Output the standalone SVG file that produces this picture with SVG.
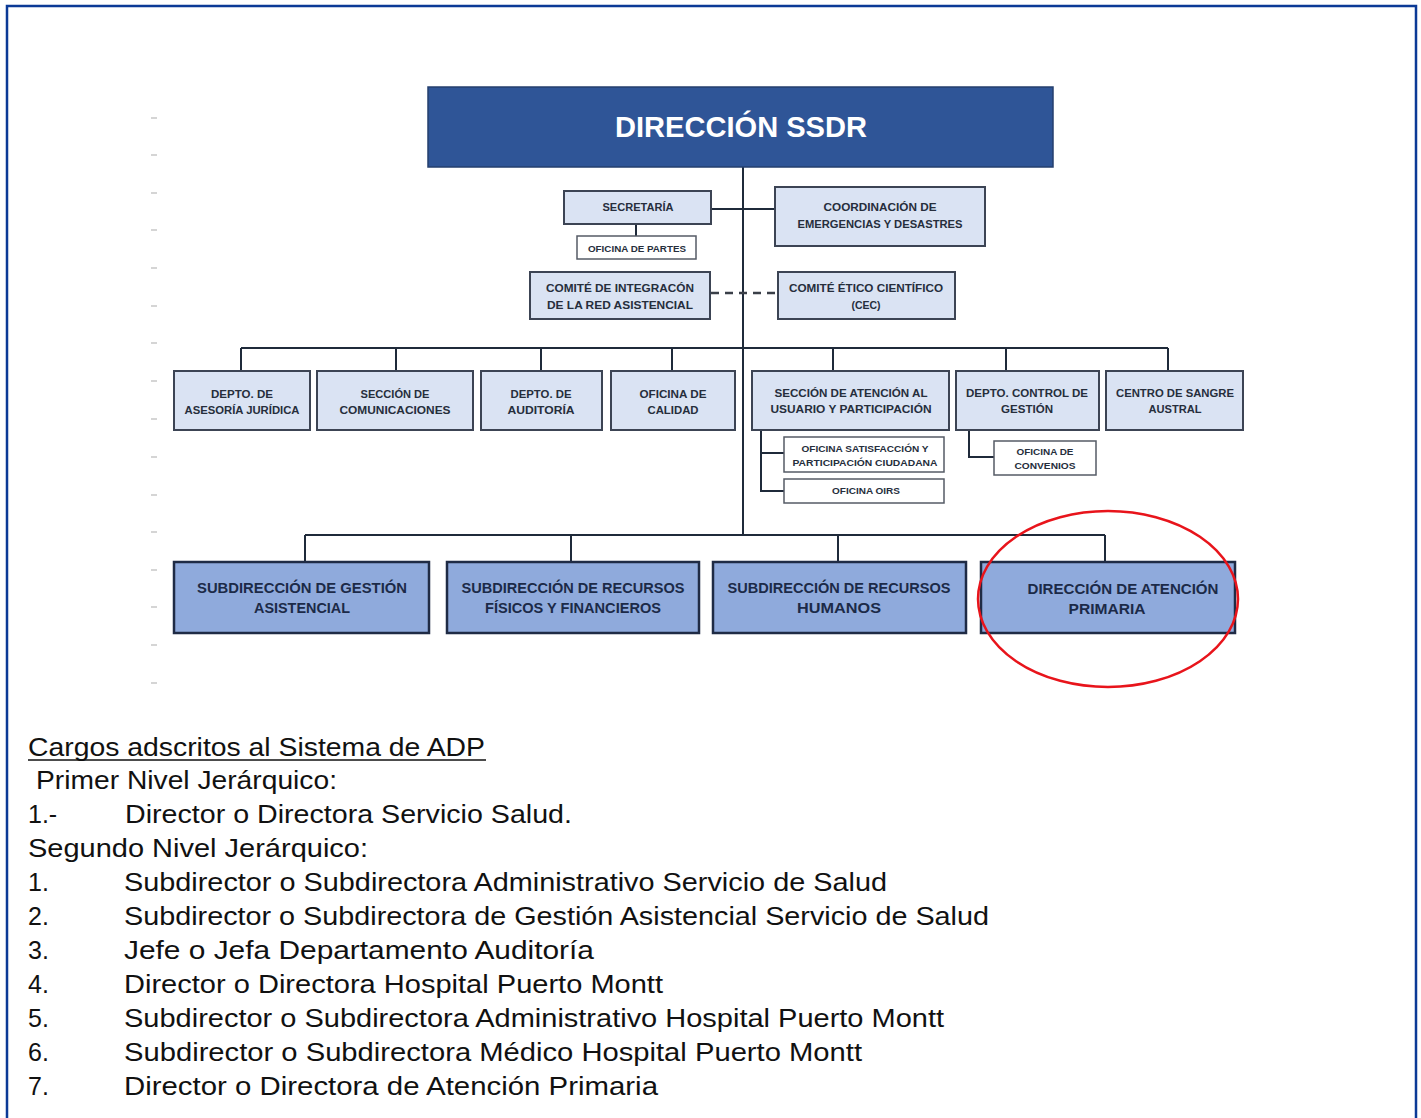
<svg xmlns="http://www.w3.org/2000/svg" width="1421" height="1118" viewBox="0 0 1421 1118">
<style>
.bg{fill:#ffffff}
.frame{fill:none;stroke:#0b3a96;stroke-width:2.5}
.tick{stroke:#c8c8c8;stroke-width:1.5}
.top{fill:#2f5597;stroke:#253f6e;stroke-width:1.5}
.lt{fill:#dae3f3;stroke:#3c4454;stroke-width:2}
.wh{fill:#ffffff;stroke:#555b66;stroke-width:1.5}
.md{fill:#8faadc;stroke:#1f2b45;stroke-width:2.5}
.ln{fill:none;stroke:#1f2a3a;stroke-width:2}
.dash{fill:none;stroke:#3a3f48;stroke-width:2.5;stroke-dasharray:8 6}
.ttop{font-family:"Liberation Sans",Arial,sans-serif;font-weight:bold;font-size:30px;fill:#ffffff;text-anchor:middle}
.t11{font-family:"Liberation Sans",Arial,sans-serif;font-weight:bold;font-size:11px;fill:#262e3c;text-anchor:middle}
.t9{font-family:"Liberation Sans",Arial,sans-serif;font-weight:bold;font-size:9.5px;fill:#262e3c;text-anchor:middle}
.t15{font-family:"Liberation Sans",Arial,sans-serif;font-weight:bold;font-size:15px;fill:#1c2a48;text-anchor:middle}
.body{font-family:"Liberation Sans",Arial,sans-serif;font-size:25px;fill:#111111}
.red{fill:none;stroke:#e8141b;stroke-width:2.5}
</style>
<rect class="bg" x="0" y="0" width="1421" height="1118"/>
<path class="frame" d="M7,1118 V6 H1416 V1118"/>
<g id="ticks">
<path class="tick" d="M151,118h6M151,155h6M151,193h6M151,230h6M151,268h6M151,306h6M151,343h6M151,381h6M151,419h6M151,457h6M151,495h6M151,532h6M151,570h6M151,607h6M151,645h6M151,683h6"/>
</g>
<g id="connectors">
<path class="ln" d="M743,167 V535"/>
<path class="ln" d="M711,209 H775"/>
<path class="ln" d="M636,224 V236"/>
<path class="dash" d="M711,293 H777"/>
<path class="ln" d="M241,348 H1168 M241,348 V371 M396,348 V371 M541,348 V371 M672,348 V371 M833,348 V371 M1006,348 V371 M1168,348 V371"/>
<path class="ln" d="M761,430 V491 H784 M761,453 H784"/>
<path class="ln" d="M969,430 V457 H994"/>
<path class="ln" d="M305,535 H1105 M305,535 V562 M571,535 V562 M838,535 V562 M1105,535 V562"/>
</g>
<g id="n-direccion">
<rect class="top" x="428" y="87" width="625" height="80"/>
<text class="ttop" x="741" y="137" textLength="252" lengthAdjust="spacingAndGlyphs">DIRECCIÓN SSDR</text>
</g>
<g id="n-secretaria">
<rect class="lt" x="564" y="191" width="147" height="33"/>
<text class="t11" x="638" y="211" textLength="71" lengthAdjust="spacingAndGlyphs">SECRETARÍA</text>
</g>
<g id="n-partes">
<rect class="wh" x="577" y="236" width="119" height="23"/>
<text class="t9" x="637" y="252" textLength="98" lengthAdjust="spacingAndGlyphs">OFICINA DE PARTES</text>
</g>
<g id="n-coordinacion">
<rect class="lt" x="775" y="187" width="210" height="59"/>
<text class="t11" x="880" y="211" textLength="113" lengthAdjust="spacingAndGlyphs">COORDINACIÓN DE</text>
<text class="t11" x="880" y="228" textLength="165" lengthAdjust="spacingAndGlyphs">EMERGENCIAS Y DESASTRES</text>
</g>
<g id="n-comite-integracion">
<rect class="lt" x="530" y="272" width="180" height="47"/>
<text class="t11" x="620" y="292" textLength="148" lengthAdjust="spacingAndGlyphs">COMITÉ DE INTEGRACÓN</text>
<text class="t11" x="620" y="309" textLength="146" lengthAdjust="spacingAndGlyphs">DE LA RED ASISTENCIAL</text>
</g>
<g id="n-comite-etico">
<rect class="lt" x="778" y="272" width="177" height="47"/>
<text class="t11" x="866" y="292" textLength="154" lengthAdjust="spacingAndGlyphs">COMITÉ ÉTICO CIENTÍFICO</text>
<text class="t11" x="866" y="309" textLength="29" lengthAdjust="spacingAndGlyphs">(CEC)</text>
</g>
<g id="n-juridica">
<rect class="lt" x="174" y="371" width="136" height="59"/>
<text class="t11" x="242" y="398" textLength="62" lengthAdjust="spacingAndGlyphs">DEPTO. DE</text>
<text class="t11" x="242" y="414" textLength="115" lengthAdjust="spacingAndGlyphs">ASESORÍA JURÍDICA</text>
</g>
<g id="n-comunicaciones">
<rect class="lt" x="317" y="371" width="156" height="59"/>
<text class="t11" x="395" y="398" textLength="69" lengthAdjust="spacingAndGlyphs">SECCIÓN DE</text>
<text class="t11" x="395" y="414" textLength="111" lengthAdjust="spacingAndGlyphs">COMUNICACIONES</text>
</g>
<g id="n-auditoria">
<rect class="lt" x="481" y="371" width="121" height="59"/>
<text class="t11" x="541" y="398" textLength="61" lengthAdjust="spacingAndGlyphs">DEPTO. DE</text>
<text class="t11" x="541" y="414" textLength="67" lengthAdjust="spacingAndGlyphs">AUDITORÍA</text>
</g>
<g id="n-calidad">
<rect class="lt" x="611" y="371" width="124" height="59"/>
<text class="t11" x="673" y="398" textLength="67" lengthAdjust="spacingAndGlyphs">OFICINA DE</text>
<text class="t11" x="673" y="414" textLength="51" lengthAdjust="spacingAndGlyphs">CALIDAD</text>
</g>
<g id="n-usuario">
<rect class="lt" x="752" y="371" width="197" height="59"/>
<text class="t11" x="851" y="397" textLength="153" lengthAdjust="spacingAndGlyphs">SECCIÓN DE ATENCIÓN AL</text>
<text class="t11" x="851" y="413" textLength="161" lengthAdjust="spacingAndGlyphs">USUARIO Y PARTICIPACIÓN</text>
</g>
<g id="n-control">
<rect class="lt" x="956" y="371" width="143" height="59"/>
<text class="t11" x="1027" y="397" textLength="122" lengthAdjust="spacingAndGlyphs">DEPTO. CONTROL DE</text>
<text class="t11" x="1027" y="413" textLength="52" lengthAdjust="spacingAndGlyphs">GESTIÓN</text>
</g>
<g id="n-sangre">
<rect class="lt" x="1106" y="371" width="137" height="59"/>
<text class="t11" x="1175" y="397" textLength="118" lengthAdjust="spacingAndGlyphs">CENTRO DE SANGRE</text>
<text class="t11" x="1175" y="413" textLength="53" lengthAdjust="spacingAndGlyphs">AUSTRAL</text>
</g>
<g id="n-satisfaccion">
<rect class="wh" x="784" y="437" width="160" height="35"/>
<text class="t9" x="865" y="452" textLength="127" lengthAdjust="spacingAndGlyphs">OFICINA SATISFACCIÓN Y</text>
<text class="t9" x="865" y="466" textLength="145" lengthAdjust="spacingAndGlyphs">PARTICIPACIÓN CIUDADANA</text>
</g>
<g id="n-oirs">
<rect class="wh" x="784" y="479" width="160" height="24"/>
<text class="t9" x="866" y="494" textLength="68" lengthAdjust="spacingAndGlyphs">OFICINA OIRS</text>
</g>
<g id="n-convenios">
<rect class="wh" x="994" y="441" width="102" height="34"/>
<text class="t9" x="1045" y="455" textLength="57" lengthAdjust="spacingAndGlyphs">OFICINA DE</text>
<text class="t9" x="1045" y="469" textLength="61" lengthAdjust="spacingAndGlyphs">CONVENIOS</text>
</g>
<g id="n-gestion-asistencial">
<rect class="md" x="174" y="562" width="255" height="71"/>
<text class="t15" x="302" y="593" textLength="210" lengthAdjust="spacingAndGlyphs">SUBDIRECCIÓN DE GESTIÓN</text>
<text class="t15" x="302" y="613" textLength="96" lengthAdjust="spacingAndGlyphs">ASISTENCIAL</text>
</g>
<g id="n-recursos-fisicos">
<rect class="md" x="447" y="562" width="252" height="71"/>
<text class="t15" x="573" y="593" textLength="223" lengthAdjust="spacingAndGlyphs">SUBDIRECCIÓN DE RECURSOS</text>
<text class="t15" x="573" y="613" textLength="176" lengthAdjust="spacingAndGlyphs">FÍSICOS Y FINANCIEROS</text>
</g>
<g id="n-recursos-humanos">
<rect class="md" x="713" y="562" width="253" height="71"/>
<text class="t15" x="839" y="593" textLength="223" lengthAdjust="spacingAndGlyphs">SUBDIRECCIÓN DE RECURSOS</text>
<text class="t15" x="839" y="613" textLength="84" lengthAdjust="spacingAndGlyphs">HUMANOS</text>
</g>
<g id="n-atencion-primaria">
<rect class="md" x="981" y="562" width="254" height="71"/>
<text class="t15" x="1123" y="594" textLength="191" lengthAdjust="spacingAndGlyphs">DIRECCIÓN DE ATENCIÓN</text>
<text class="t15" x="1107" y="614" textLength="77" lengthAdjust="spacingAndGlyphs">PRIMARIA</text>
</g>
<ellipse class="red" cx="1108" cy="599" rx="130" ry="88"/>
<g id="list">
<text class="body" x="28" y="756" textLength="457" lengthAdjust="spacingAndGlyphs">Cargos adscritos al Sistema de ADP</text>
<line x1="28" y1="760" x2="486" y2="760" stroke="#111111" stroke-width="1.5"/>
<text class="body" x="36" y="789" textLength="301" lengthAdjust="spacingAndGlyphs">Primer Nivel Jerárquico:</text>
<text class="body" x="28" y="823">1.-</text>
<text class="body" x="125" y="823" textLength="447" lengthAdjust="spacingAndGlyphs">Director o Directora Servicio Salud.</text>
<text class="body" x="28" y="857" textLength="340" lengthAdjust="spacingAndGlyphs">Segundo Nivel Jerárquico:</text>
<text class="body" x="28" y="891">1.</text>
<text class="body" x="124" y="891" textLength="763" lengthAdjust="spacingAndGlyphs">Subdirector o Subdirectora Administrativo Servicio de Salud</text>
<text class="body" x="28" y="925">2.</text>
<text class="body" x="124" y="925" textLength="865" lengthAdjust="spacingAndGlyphs">Subdirector o Subdirectora de Gestión Asistencial Servicio de Salud</text>
<text class="body" x="28" y="959">3.</text>
<text class="body" x="124" y="959" textLength="470" lengthAdjust="spacingAndGlyphs">Jefe o Jefa Departamento Auditoría</text>
<text class="body" x="28" y="993">4.</text>
<text class="body" x="124" y="993" textLength="539" lengthAdjust="spacingAndGlyphs">Director o Directora Hospital Puerto Montt</text>
<text class="body" x="28" y="1027">5.</text>
<text class="body" x="124" y="1027" textLength="820" lengthAdjust="spacingAndGlyphs">Subdirector o Subdirectora Administrativo Hospital Puerto Montt</text>
<text class="body" x="28" y="1061">6.</text>
<text class="body" x="124" y="1061" textLength="738" lengthAdjust="spacingAndGlyphs">Subdirector o Subdirectora Médico Hospital Puerto Montt</text>
<text class="body" x="28" y="1095">7.</text>
<text class="body" x="124" y="1095" textLength="534" lengthAdjust="spacingAndGlyphs">Director o Directora de Atención Primaria</text>
</g>
</svg>
